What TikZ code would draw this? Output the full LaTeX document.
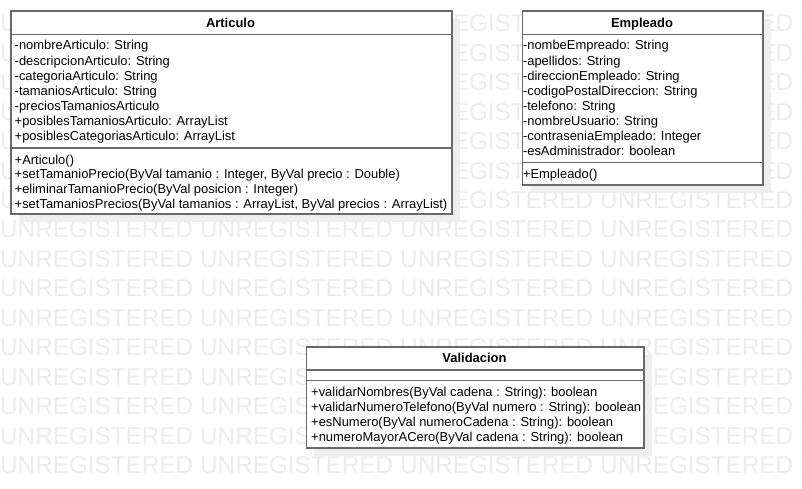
\documentclass[tikz,border=0pt]{standalone}
\usepackage{fontspec}
\setmainfont{Liberation Sans}
\usetikzlibrary{shadows}
\definecolor{bordc}{RGB}{105,105,105}
\definecolor{wmc}{RGB}{236,236,236}
\definecolor{shadc}{RGB}{238,238,238}
\begin{document}
\begin{tikzpicture}[x=1pt,y=-1pt,
  classbox/.style={draw=bordc,line width=1.5pt,fill=white,anchor=north west,inner sep=0pt,
    drop shadow={shadow xshift=8pt,shadow yshift=-8pt,fill=shadc,opacity=1}},
  divider/.style={draw=bordc,line width=1.5pt},
  member/.style={anchor=base west,inner sep=0pt,font=\fontsize{12.95}{15}\selectfont},
  title/.style={anchor=base,inner sep=0pt,font=\fontsize{12.95}{15}\selectfont\bfseries},
  wm/.style={anchor=base west,inner sep=0pt,text=wmc,font=\fontsize{24.3}{24}\selectfont}]
\useasboundingbox (0,0) rectangle (802,488);
\fill[white] (0,0) rectangle (802,488);
% watermark
\foreach \r in {0,...,15}{
  \foreach \c in {0,...,4}{
    \node[wm] (wm-\r-\c) at ({200*\c},{23+29.47*\r+8.7}) {UNREGISTERED};
  }
}
% Articulo
\node[classbox,minimum width=441pt,minimum height=203pt] (articulo) at (10,10) {};
\draw[divider] ([yshift=-24.5pt]articulo.north west) -- ([yshift=-24.5pt]articulo.north east);
\draw[divider] ([yshift=-138pt]articulo.north west) -- ([yshift=-138pt]articulo.north east);
\node[title] (articulo-t) at (230.5,27.8) {Articulo};
\foreach \t [count=\i] in {-nombreArticulo: String,-descripcionArticulo: String,-categoriaArticulo: String,-tamaniosArticulo: String,-preciosTamaniosArticulo,+posiblesTamaniosArticulo: ArrayList,+posiblesCategoriasArticulo: ArrayList}{
  \node[member] (articulo-a\i) at (14.5,{49.9+15.1*(\i-1)}) {\t};
}
\foreach \t [count=\i] in {+Articulo(),{+setTamanioPrecio(ByVal tamanio : Integer, ByVal precio : Double)},+eliminarTamanioPrecio(ByVal posicion : Integer),{+setTamaniosPrecios(ByVal tamanios : ArrayList, ByVal precios : ArrayList)}}{
  \node[member] (articulo-m\i) at (14.5,{164+14.7*(\i-1)}) {\t};
}
% Empleado
\node[classbox,minimum width=240.6pt,minimum height=174.3pt] (empleado) at (521.7,10) {};
\draw[divider] ([yshift=-24.5pt]empleado.north west) -- ([yshift=-24.5pt]empleado.north east);
\draw[divider] ([yshift=-152.7pt]empleado.north west) -- ([yshift=-152.7pt]empleado.north east);
\node[title] (empleado-t) at (642,27.8) {Empleado};
\foreach \t [count=\i] in {-nombeEmpreado: String,-apellidos: String,-direccionEmpleado: String,-codigoPostalDireccion: String,-telefono: String,-nombreUsuario: String,-contraseniaEmpleado: Integer,-esAdministrador: boolean}{
  \node[member] (empleado-a\i) at (522.8,{49.9+15.1*(\i-1)}) {\t};
}
\node[member] (empleado-m1) at (522.8,178) {+Empleado()};
% Validacion
\node[classbox,minimum width=337.6pt,minimum height=101.3pt] (validacion) at (305.7,346) {};
\draw[divider] ([yshift=-24pt]validacion.north west) -- ([yshift=-24pt]validacion.north east);
\draw[divider] ([yshift=-34.7pt]validacion.north west) -- ([yshift=-34.7pt]validacion.north east);
\node[title] (validacion-t) at (474.5,362.8) {Validacion};
\foreach \t [count=\i] in {+validarNombres(ByVal cadena : String): boolean,+validarNumeroTelefono(ByVal numero : String): boolean,+esNumero(ByVal numeroCadena : String): boolean,+numeroMayorACero(ByVal cadena : String): boolean}{
  \node[member] (validacion-m\i) at (311,{396.4+15*(\i-1)}) {\t};
}
\end{tikzpicture}
\end{document}
